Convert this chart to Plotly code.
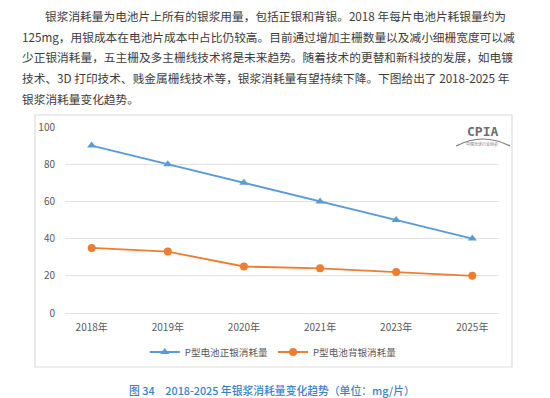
import plotly.graph_objects as go

categories = ["2018年", "2019年", "2020年", "2021年", "2023年", "2025年"]
front_silver = [90, 80, 70, 60, 50, 40]
back_silver = [35, 33, 25, 24, 22, 20]
series_names = ["P型电池正银消耗量", "P型电池背银消耗量"]
y_ticks = [0, 20, 40, 60, 80, 100]

paragraph = [
    "银浆消耗量为电池片上所有的银浆用量，包括正银和背银。2018 年每片电池片耗银量约为",
    "125mg，用银成本在电池片成本中占比仍较高。目前通过增加主栅数量以及减小细栅宽度可以减",
    "少正银消耗量，五主栅及多主栅线技术将是未来趋势。随着技术的更替和新科技的发展，如电镀",
    "技术、3D 打印技术、贱金属栅线技术等，银浆消耗量有望持续下降。下图给出了 2018-2025 年",
    "银浆消耗量变化趋势。",
]
caption = "图 34　2018-2025 年银浆消耗量变化趋势（单位：mg/片）"

# page body has an 8px margin: figure drawn at (8,8)
OFF = 8
W, H = 550 - OFF, 398 - OFF
# plot area in page pixels: x 65..499, y 127..313
PX0, PX1, PY0, PY1 = 65, 499, 127, 313
L, T = PX0 - OFF, PY0 - OFF
R, B = W - (PX1 - OFF), H - (PY1 - OFF)
PW, PH = PX1 - PX0, PY1 - PY0


def px(x):
    return (x - PX0) / PW


def py(y):
    return (PY1 - y) / PH


FONT = "Noto Sans CJK SC"

fig = go.Figure()
fig.add_trace(go.Scatter(
    x=categories, y=front_silver, name=series_names[0], mode="lines+markers",
    line=dict(color="#5B9BD5", width=1.8),
    marker=dict(symbol="triangle-up", size=8, color="#5B9BD5"),
))
fig.add_trace(go.Scatter(
    x=categories, y=back_silver, name=series_names[1], mode="lines+markers",
    line=dict(color="#ED7D31", width=1.8),
    marker=dict(symbol="circle", size=8, color="#ED7D31"),
))

annotations = []
line_y = [15.5, 36.2, 57, 77.8, 98.5]
for i, (txt, yy) in enumerate(zip(paragraph, line_y)):
    annotations.append(dict(
        text=txt, xref="paper", yref="paper", x=px(43 if i == 0 else 20), y=py(yy),
        xanchor="left", yanchor="middle", showarrow=False,
        font=dict(family=FONT, size=11.7, color="#3c3c3c"),
    ))
annotations.append(dict(
    text=caption, xref="paper", yref="paper", x=px(272), y=py(390),
    xanchor="center", yanchor="middle", showarrow=False,
    font=dict(family=FONT, size=10.8, color="#3B82C4", weight=500),
))
# CPIA logo
annotations.append(dict(
    text="<b>CPIA</b>", xref="paper", yref="paper", x=px(482), y=py(131),
    xanchor="center", yanchor="middle", showarrow=False,
    font=dict(family="DejaVu Sans Mono", size=13, color="#6f6f6f"),
))
annotations.append(dict(
    text="中国光伏行业协会", xref="paper", yref="paper", x=px(482), y=py(144),
    xanchor="center", yanchor="middle", showarrow=False,
    font=dict(family=FONT, size=4, color="#6f6f6f"),
))

shapes = [
    dict(type="rect", xref="paper", yref="paper", x0=px(35), x1=px(512), y0=py(115), y1=py(367),
         line=dict(color="#dcdcdc", width=1.2), fillcolor="rgba(0,0,0,0)", layer="below"),
    dict(type="path", xref="paper", yref="paper",
         path=f"M {px(456)},{py(146)} Q {px(483)},{py(132)} {px(510)},{py(146)}",
         line=dict(color="#7a7a7a", width=1.2)),
]

fig.update_layout(
    width=W, height=H,
    margin=dict(l=L, r=R, t=T, b=B, pad=0),
    paper_bgcolor="white", plot_bgcolor="white",
    font=dict(family=FONT, size=10, color="#595959"),
    showlegend=True,
    legend=dict(orientation="h", x=0.48, xanchor="center", y=py(352), yanchor="middle",
                font=dict(family=FONT, size=9.6, color="#595959"), itemwidth=30,
                bgcolor="rgba(0,0,0,0)"),
    xaxis=dict(type="category", showgrid=False, showline=False, zeroline=False,
               ticks="", tickfont=dict(size=10, color="#595959"), ticklabelstandoff=7),
    yaxis=dict(range=[0, 100], tickvals=y_ticks, showgrid=True, gridcolor="#e3e3e3", gridwidth=1,
               zeroline=True, zerolinecolor="#e3e3e3", zerolinewidth=1, showline=False,
               ticks="", tickfont=dict(size=10, color="#595959"), ticklabelstandoff=9),
    annotations=annotations,
    shapes=shapes,
)

fig.write_html("out.html")
